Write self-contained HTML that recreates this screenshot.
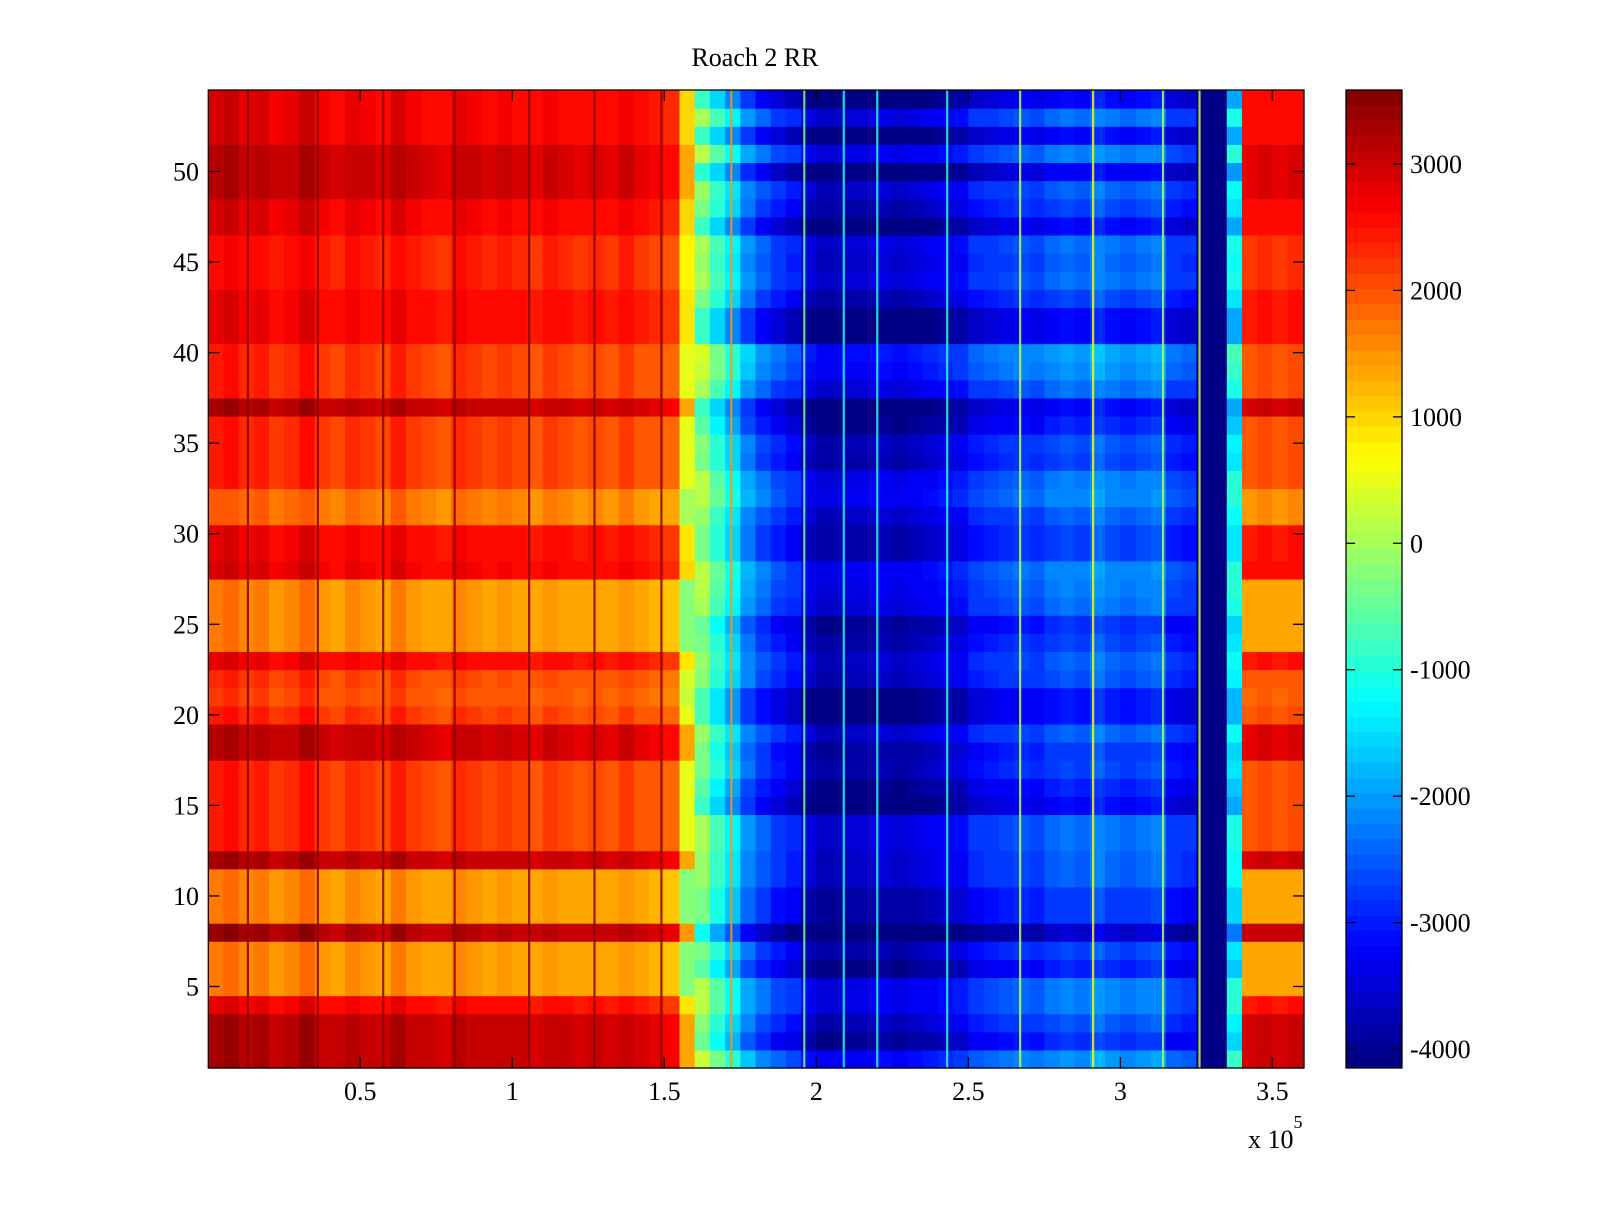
<!DOCTYPE html>
<html><head><meta charset="utf-8"><title>Roach 2 RR</title>
<style>
html,body{margin:0;padding:0;background:#fff;}
svg text{font-family:"Liberation Serif",serif;fill:#000;}
</style></head>
<body>
<svg id="chart" width="1600" height="1200" viewBox="0 0 1600 1200" xmlns="http://www.w3.org/2000/svg">
<rect x="0" y="0" width="1600" height="1200" fill="#fff"/>
<text x="755" y="66" font-size="26" text-anchor="middle">Roach 2 RR</text>
<g id="cells"></g>
<g id="stripes"></g>
<g id="axes"></g>
<g id="cbar"></g>
<text x="1248" y="1148" font-size="26">x 10<tspan dy="-20" font-size="18">5</tspan></text>
</svg>
<script>
// ---- data ----
const xTicks = [0.5, 1, 1.5, 2, 2.5, 3, 3.5];
const xTickLabels = ["0.5", "1", "1.5", "2", "2.5", "3", "3.5"];
const yTicks = [5, 10, 15, 20, 25, 30, 35, 40, 45, 50];
const cbTicks = [-4000, -3000, -2000, -1000, 0, 1000, 2000, 3000];
const colStep = 0.05; // data units (x 1e5) per column bin
const colBase = [2600,2700,2500,2600,2400,2500,2700,2400,2300,2500,2400,2300,2600,2400,2300,2200,2500,2400,2300,2400,2300,2200,2400,2300,2200,2300,2200,2400,2200,2100,2000,
 700,-300,-1000,-1600,-2300,-2700,-3000,-3200,
 -3700,-3900,-3900,-3800,-3800,-3700,-3800,-3700,-3600,-3500,-3400,
 -3100,-3000,-2900,-2800,-2900,-2700,-2600,-2700,-2400,-2600,-2700,-2600,-2500,
 -3000,-3100,-4100,-4150,-1400,2200,2300,2200,2300];
// row offsets, row 1 (bottom) .. row 54 (top)
const rowWarm = [700,700,700,200,-900,-900,-900,800,-900,-900,-900,700,-200,-200,-200,-200,-200,600,600,-200,-400,-300,200,-900,-900,-900,-900,300,200,200,-700,-700,-200,-200,-200,-200,700,-200,-200,-200,200,200,200,0,0,0,300,300,600,600,600,300,300,300];
const rowCool = [600,-200,100,400,400,-300,0,-900,-100,-100,200,200,300,300,-500,-300,0,-100,200,-400,-400,100,200,0,-200,300,400,500,0,0,200,500,400,0,100,-300,-500,300,600,700,-500,-500,0,300,200,300,-500,0,200,-600,400,-500,300,-500];
const stripeX = [0.13,0.36,0.575,0.81,1.055,1.27,1.49,1.72,1.96,2.09,2.2,2.43,2.67,2.91,3.14,3.26];
const stripeV = [3500,3500,3500,3500,3500,3500,3500,1500,-500,-1200,-900,-1000,300,800,200,300];

// ---- layout ----
const L=208.3, R=1304, T=90, B=1068;
const xMin=0, xMax=3.604, yMin=0.5, yMax=54.5;
const cMin=-4150, cMax=3585;
const CBL=1346, CBR=1402;
const xs = v => L + (v - xMin) / (xMax - xMin) * (R - L);
const ys = v => B - (v - yMin) / (yMax - yMin) * (B - T);
const cs = v => B - (v - cMin) / (cMax - cMin) * (B - T);
const NS='http://www.w3.org/2000/svg';
function mk(tag, attrs){const e=document.createElementNS(NS,tag);for(const k in attrs)e.setAttribute(k,attrs[k]);return e;}
function jet(t){
  t=Math.max(0,Math.min(1,t));
  const idx=Math.min(63,Math.floor(t*64)); const q=(idx+0.5)/64;
  const f=x=>Math.max(0,Math.min(1,x));
  const r=f(Math.min(4*q-1.5,-4*q+4.5)), g=f(Math.min(4*q-0.5,-4*q+3.5)), b=f(Math.min(4*q+0.5,-4*q+2.5));
  return `rgb(${Math.round(r*255)},${Math.round(g*255)},${Math.round(b*255)})`;
}
const cnorm = v => (v - cMin)/(cMax - cMin);

// ---- cells ----
const cells=document.getElementById('cells');
for(let c=0;c<colBase.length;c++){
  const x0=xs(c*colStep), x1=Math.min(R, xs((c+1)*colStep));
  if(x0>=R) break;
  const base=colBase[c];
  for(let r=0;r<rowWarm.length;r++){
    let v = base>0 ? base+rowWarm[r] : (base>-4000 ? base+rowCool[r] : base);
    const y0=ys(r+1.5), y1=ys(r+0.5);
    const rc=mk('rect',{x:x0.toFixed(2),y:y0.toFixed(2),width:(x1-x0+0.6).toFixed(2),height:(y1-y0+0.6).toFixed(2),fill:jet(cnorm(v))});
    
    
    cells.appendChild(rc);
  }
}
// ---- stripes ----
const stripes=document.getElementById('stripes');
for(let i=0;i<stripeX.length;i++){
  const sx=xs(stripeX[i]);
  const s=mk('rect',{x:(sx-1).toFixed(2),y:T,width:2.2,height:B-T,fill:jet(cnorm(stripeV[i])),opacity:0.85});
  
  
  stripes.appendChild(s);
}
// ---- axes ----
const axes=document.getElementById('axes');
const frame=mk('rect',{x:L,y:T,width:R-L,height:B-T,fill:'none',stroke:'#000','stroke-width':1.3});


axes.appendChild(frame);
xTicks.forEach((v,i)=>{
  const x=xs(v);
  const t1=mk('line',{x1:x,x2:x,y1:B,y2:B-11,stroke:'#000','stroke-width':1.3});
  
  
  axes.appendChild(t1);
  const t2=mk('line',{x1:x,x2:x,y1:T,y2:T+11,stroke:'#000','stroke-width':1.3});
  
  
  axes.appendChild(t2);
  const lb=mk('text',{x:x,y:1100,'font-size':26,'text-anchor':'middle'});
  lb.textContent=xTickLabels[i];
  
  
  axes.appendChild(lb);
});
yTicks.forEach(v=>{
  const y=ys(v);
  const t1=mk('line',{x1:L,x2:L+11,y1:y,y2:y,stroke:'#000','stroke-width':1.3});
  
  
  axes.appendChild(t1);
  const t2=mk('line',{x1:R,x2:R-11,y1:y,y2:y,stroke:'#000','stroke-width':1.3});
  
  
  axes.appendChild(t2);
  const lb=mk('text',{x:199,y:y+9,'font-size':26,'text-anchor':'end'});
  lb.textContent=String(v);
  
  
  axes.appendChild(lb);
});
// ---- colorbar ----
const cbar=document.getElementById('cbar');
for(let i=0;i<64;i++){
  const y0=B-(i+1)*(B-T)/64, h=(B-T)/64;
  const rc=mk('rect',{x:CBL,y:y0.toFixed(2),width:CBR-CBL,height:(h+0.5).toFixed(2),fill:jet((i+0.5)/64)});
  
  
  cbar.appendChild(rc);
}
const cf=mk('rect',{x:CBL,y:T,width:CBR-CBL,height:B-T,fill:'none',stroke:'#000','stroke-width':1.3});


cbar.appendChild(cf);
cbTicks.forEach(v=>{
  const y=cs(v);
  const a=mk('line',{x1:CBL,x2:CBL+9,y1:y,y2:y,stroke:'#000','stroke-width':1.3});
  
  
  cbar.appendChild(a);
  const b=mk('line',{x1:CBR,x2:CBR-9,y1:y,y2:y,stroke:'#000','stroke-width':1.3});
  
  
  cbar.appendChild(b);
  const lb=mk('text',{x:1410,y:y+9,'font-size':26});
  lb.textContent=String(v);
  
  
  cbar.appendChild(lb);
});
</script>
</body></html>
